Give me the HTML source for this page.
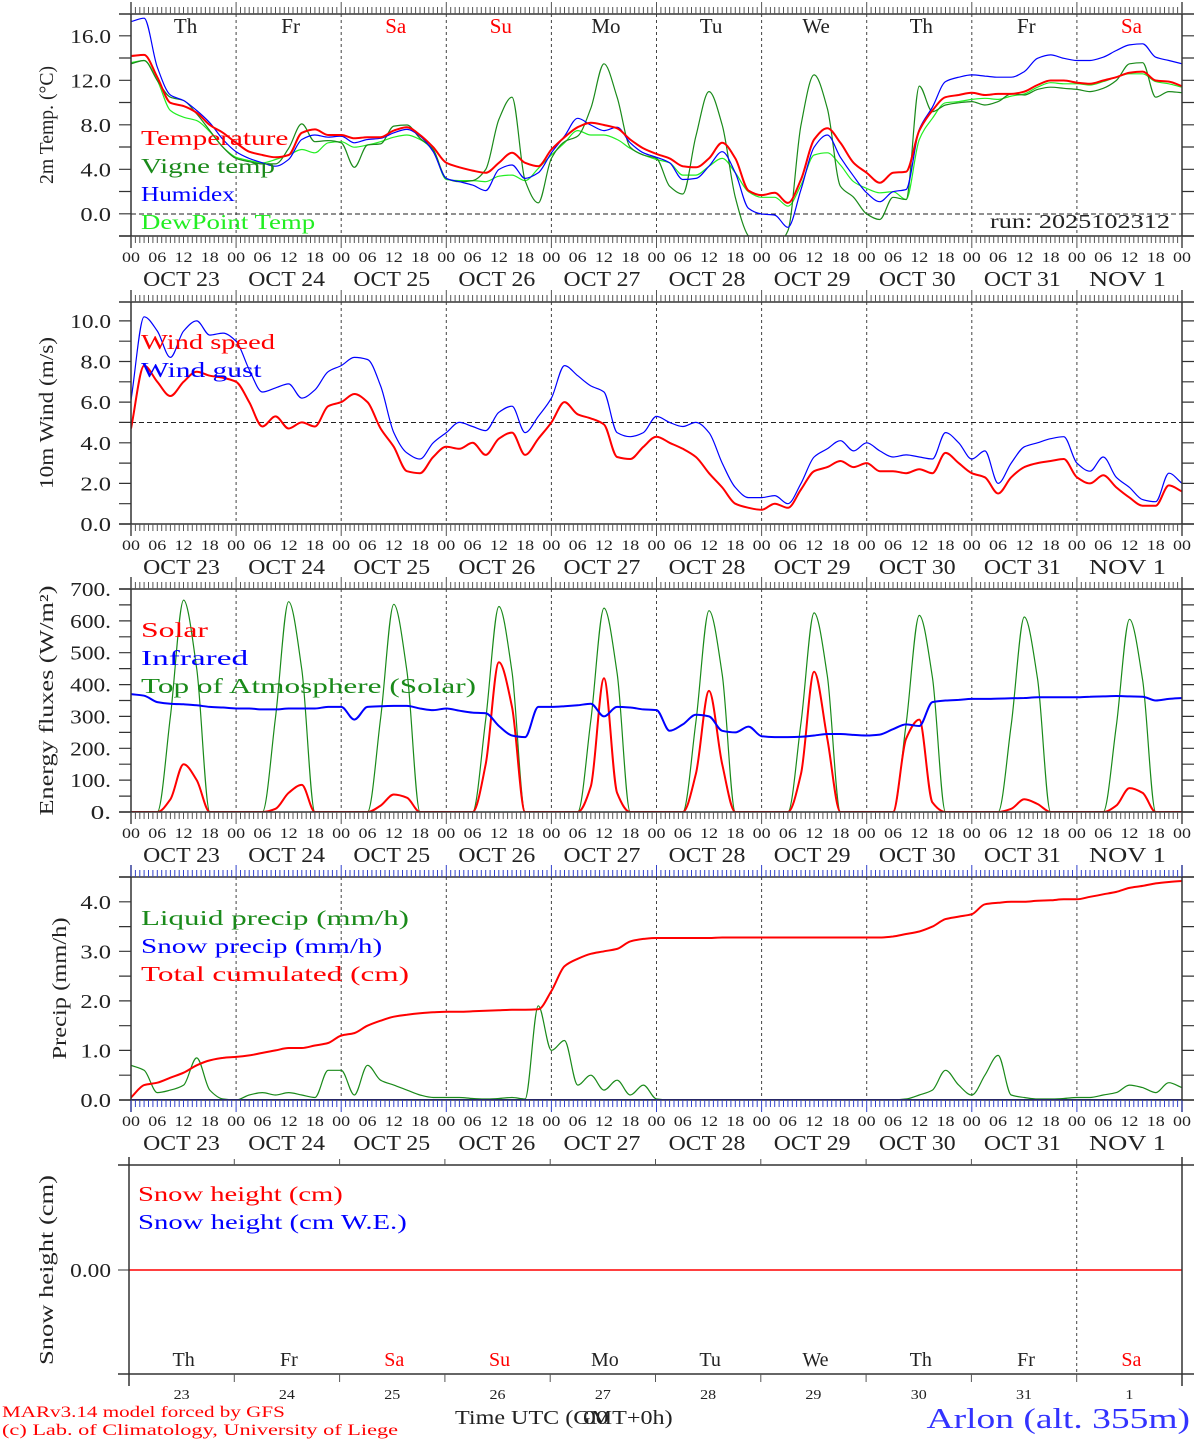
<!DOCTYPE html>
<html><head><meta charset="utf-8"><style>
html,body{margin:0;padding:0;background:#fff;}
svg{display:block;font-family:"Liberation Serif",serif;}
</style></head><body>
<svg id="chart" width="1194" height="1440" viewBox="0 0 1194 1440" xmlns="http://www.w3.org/2000/svg"></svg>
<script>
// ---- data (3-hourly from 23 Oct 00 UTC to 2 Nov 00 UTC, 81 values) ----
const dayNames = ["Th","Fr","Sa","Su","Mo","Tu","We","Th","Fr","Sa"];
const dayNameRed = [false,false,true,true,false,false,false,false,false,true];
const dateLabels = ["OCT 23","OCT 24","OCT 25","OCT 26","OCT 27","OCT 28","OCT 29","OCT 30","OCT 31","NOV  1"];
const dayNumbers = ["23","24","25","26","27","28","29","30","31","1"];
const hourLabels = ["00","06","12","18"];
const tempTicks = [0,4,8,12,16];
const windTicks = [0,2,4,6,8,10];
const fluxTicks = [0,100,200,300,400,500,600,700];
const precipTicks = [0,1,2,3,4];

const temperature = [14.2,14.3,12.3,10.0,9.7,9.1,8.0,7.3, 6.4,5.6,5.3,5.1,5.3,7.3,7.6,7.1, 7.1,6.8,6.9,6.9,7.5,7.8,7.1,6.0, 4.6,4.2,3.9,3.7,4.6,5.5,4.6,4.3, 5.8,6.9,7.8,8.2,8.0,7.7,6.7,5.9, 5.4,5.0,4.3,4.2,5.0,6.4,5.0,2.1, 1.7,1.9,1.0,3.1,6.7,7.7,6.4,4.6, 3.7,2.8,3.7,3.8,7.5,9.3,10.5,10.7, 10.9,10.7,10.8,10.8,11.0,11.6,12.0,12.0, 11.8,11.7,12.0,12.3,12.7,12.8,12.0,11.9,11.5];
const vigneTemp = [13.5,13.8,12.0,10.5,10.2,9.0,7.5,6.0, 5.0,4.7,4.5,4.5,5.9,8.1,6.5,6.6, 6.4,4.2,6.2,6.3,7.9,8.0,6.8,5.8, 3.2,2.9,3.0,4.0,8.5,10.5,3.0,1.0, 5.0,6.5,7.0,9.5,13.5,10.5,6.0,5.3, 5.0,2.5,1.8,7.0,11.0,8.0,1.5,-2.0, -3.0,-3.0,-1.5,8.0,12.5,9.5,2.5,1.5, 0.0,-0.5,1.5,1.3,11.5,9.2,9.8,10.0, 10.1,9.8,10.1,10.8,10.7,11.2,11.4,11.3, 11.2,11.0,11.3,12.0,13.5,13.6,10.5,11.0,10.9];
const humidex = [17.3,17.6,13.2,10.7,10.2,9.3,8.2,6.7, 5.6,5.0,4.6,4.3,4.9,6.7,7.1,6.9, 7.0,6.4,6.7,6.8,7.3,7.6,7.0,5.6, 3.2,2.9,2.6,2.1,4.0,4.4,3.2,3.7, 5.5,7.0,8.6,8.0,7.5,7.8,6.4,5.5, 5.1,4.6,3.1,3.2,4.3,5.6,3.7,0.5, 0.0,-0.1,-1.2,2.2,6.0,7.1,5.1,3.4, 1.9,1.1,2.0,2.2,7.6,9.6,11.9,12.3, 12.5,12.4,12.3,12.3,12.8,14.0,14.3,14.0, 13.8,13.8,14.1,14.7,15.2,15.3,14.1,13.8,13.5];
const dewPoint = [13.6,13.8,12.0,9.3,8.7,8.4,7.4,6.0, 5.1,4.8,4.6,4.9,5.3,5.8,5.5,6.4, 6.5,6.0,6.2,6.5,6.9,7.1,6.7,5.7, 3.1,3.0,3.0,2.9,3.4,3.5,3.0,4.1, 5.3,6.4,7.5,7.1,7.1,6.7,5.9,5.3, 4.9,4.6,3.5,3.5,4.3,5.0,3.7,2.0, 1.5,1.5,0.7,2.6,5.3,5.5,4.4,2.9, 2.3,1.9,2.0,1.3,6.7,8.6,10.0,10.1, 10.3,10.4,10.3,10.6,10.8,11.4,11.8,11.7, 11.7,11.6,11.9,12.3,12.6,12.6,11.9,11.7,11.4];

const windSpeed = [4.7,7.8,7.0,6.3,7.0,7.5,7.3,7.2, 7.0,6.0,4.8,5.3,4.7,5.0,4.8,5.8, 6.0,6.4,6.0,4.7,3.8,2.6,2.5,3.3, 3.8,3.7,4.0,3.4,4.2,4.5,3.4,4.2, 5.0,6.0,5.4,5.2,4.9,3.3,3.2,3.8, 4.3,4.0,3.7,3.3,2.5,1.8,1.0,0.8, 0.7,1.0,0.8,1.7,2.6,2.8,3.1,2.8, 3.0,2.6,2.6,2.5,2.7,2.5,3.5,3.0, 2.5,2.3,1.5,2.3,2.8,3.0,3.1,3.2, 2.3,2.0,2.4,1.8,1.3,0.9,0.9,1.9,1.6];
const windGust = [6.1,10.2,9.5,8.2,9.5,10.0,9.3,9.4, 9.0,7.6,6.5,6.7,6.9,6.2,6.6,7.5, 7.8,8.2,8.1,6.8,4.5,3.5,3.2,4.0, 4.5,5.0,4.8,4.6,5.5,5.8,4.5,5.3, 6.2,7.8,7.3,6.8,6.5,4.5,4.3,4.5, 5.3,5.0,4.8,5.0,4.5,3.0,1.8,1.3, 1.3,1.4,1.0,2.0,3.3,3.7,4.1,3.6, 4.0,3.6,3.3,3.4,3.3,3.2,4.5,4.0, 3.2,3.6,2.0,3.0,3.8,4.0,4.2,4.3, 3.0,2.6,3.3,2.3,1.8,1.2,1.1,2.5,2.0];

const solar = [0,0,0,40,150,100,0,0, 0,0,0,10,60,85,0,0, 0,0,0,20,55,45,0,0, 0,0,0,150,470,330,0,0, 0,0,0,80,420,60,0,0, 0,0,0,120,380,150,0,0, 0,0,0,120,440,230,0,0, 0,0,0,230,290,30,0,0, 0,0,0,10,40,25,0,0, 0,0,0,20,75,60,0,0,0];
const infrared = [370,365,345,340,338,335,330,328, 325,325,322,322,325,325,325,330, 330,290,330,332,333,333,325,320, 325,318,312,310,270,240,235,330, 330,332,335,340,300,330,328,322, 320,255,275,305,300,255,250,268, 238,235,235,236,240,245,245,242, 240,243,260,275,270,345,350,352, 355,355,356,357,358,360,360,360, 360,362,363,364,363,362,350,355,358];
const topOfAtmos = [0,0,0,300,665,450,0,0, 0,0,0,297,660,447,0,0, 0,0,0,294,652,443,0,0, 0,0,0,290,645,440,0,0, 0,0,0,287,640,436,0,0, 0,0,0,283,632,432,0,0, 0,0,0,280,625,428,0,0, 0,0,0,276,617,423,0,0, 0,0,0,273,612,419,0,0, 0,0,0,270,605,415,0,0,0];

const liquidPrecip = [0.7,0.6,0.15,0.2,0.3,0.85,0.2,0.02, 0.0,0.1,0.15,0.1,0.15,0.1,0.05,0.6, 0.6,0.1,0.7,0.4,0.3,0.2,0.1,0.05, 0.05,0.05,0.03,0.02,0.03,0.05,0.02,1.9, 1.0,1.2,0.3,0.5,0.2,0.4,0.1,0.3, 0.02,0,0,0,0,0,0,0, 0,0,0,0,0,0,0,0, 0,0,0,0.02,0.1,0.2,0.6,0.3, 0.1,0.5,0.9,0.1,0.05,0.02,0.02,0.03, 0.05,0.05,0.1,0.15,0.3,0.25,0.15,0.35,0.25];
const snowPrecip = [0,0,0,0,0,0,0,0, 0,0,0,0,0,0,0,0, 0,0,0,0,0,0,0,0, 0,0,0,0,0,0,0,0, 0,0,0,0,0,0,0,0, 0,0,0,0,0,0,0,0, 0,0,0,0,0,0,0,0, 0,0,0,0,0,0,0,0, 0,0,0,0,0,0,0,0, 0,0,0,0,0,0,0,0,0];
const totalCumul = [0.05,0.3,0.35,0.45,0.55,0.7,0.8,0.85, 0.87,0.9,0.95,1.0,1.05,1.05,1.1,1.15, 1.3,1.35,1.5,1.6,1.68,1.72,1.75,1.77, 1.78,1.78,1.79,1.8,1.81,1.82,1.82,1.83, 2.2,2.7,2.85,2.95,3.0,3.05,3.2,3.25, 3.27,3.27,3.27,3.27,3.27,3.28,3.28,3.28, 3.28,3.28,3.28,3.28,3.28,3.28,3.28,3.28, 3.28,3.28,3.3,3.35,3.4,3.5,3.65,3.7, 3.75,3.95,3.98,4.0,4.0,4.02,4.03,4.05, 4.05,4.1,4.15,4.2,4.28,4.32,4.37,4.4,4.42];
const snowHeight = [0,0];

// ---- drawing ----
const NS = "http://www.w3.org/2000/svg";
const svg = document.getElementById("chart");
function mk(tag, attrs, parent) {
  const e = document.createElementNS(NS, tag);
  for (const k in attrs) e.setAttribute(k, attrs[k]);
  (parent || svg).appendChild(e);
  return e;
}
function txt(x, y, s, size, color, anchor, cw, parent) {
  const t = mk("text", {x: x, y: y, "font-size": size, fill: color, "text-anchor": anchor || "start"}, parent);
  if (cw) { t.setAttribute("textLength", s.length * cw); t.setAttribute("lengthAdjust", "spacingAndGlyphs"); }
  t.textContent = s;
  return t;
}
// monotone cubic path (no overshoot)
function monoPath(xs, ys) {
  const n = xs.length;
  if (n < 3) return "M" + xs.map((x, i) => x.toFixed(1) + " " + ys[i].toFixed(1)).join("L");
  const d = [], m = new Array(n);
  for (let i = 0; i < n - 1; i++) d.push((ys[i + 1] - ys[i]) / (xs[i + 1] - xs[i]));
  m[0] = d[0]; m[n - 1] = d[n - 2];
  for (let i = 1; i < n - 1; i++) {
    if (d[i - 1] * d[i] <= 0) m[i] = 0;
    else m[i] = 2 / (1 / d[i - 1] + 1 / d[i]);
  }
  let p = "M" + xs[0].toFixed(1) + " " + ys[0].toFixed(1);
  for (let i = 0; i < n - 1; i++) {
    const h = xs[i + 1] - xs[i];
    p += "C" + (xs[i] + h / 3).toFixed(1) + " " + (ys[i] + m[i] * h / 3).toFixed(1) + " " +
         (xs[i + 1] - h / 3).toFixed(1) + " " + (ys[i + 1] - m[i + 1] * h / 3).toFixed(1) + " " +
         xs[i + 1].toFixed(1) + " " + ys[i + 1].toFixed(1);
  }
  return p;
}
const X0 = 131, X1 = 1182, NDAYS = 10;
const DAYW = (X1 - X0) / NDAYS;
function xIdx(i) { return X0 + i * (X1 - X0) / 80; }

function panel(cfg) {
  const g = mk("g", {});
  
  
  const yOf = v => cfg.bottom - (v - cfg.vmin) * (cfg.bottom - cfg.top) / (cfg.vmax - cfg.vmin);
  for (let d = 1; d < NDAYS; d++) {
    const x = X0 + d * DAYW;
    const l = mk("line", {x1: x, x2: x, y1: cfg.top, y2: cfg.bottom, stroke: "#444", "stroke-width": 1, "stroke-dasharray": "3,3"}, g);
    
    
  }
  if (cfg.refLine !== undefined) {
    const y = yOf(cfg.refLine);
    const l = mk("line", {x1: X0, x2: X1, y1: y, y2: y, stroke: "#222", "stroke-width": 1, "stroke-dasharray": "5,3"}, g);
    
    
  }
  const clipId = "clip-" + cfg.name;
  const cp = mk("clipPath", {id: clipId}, g);
  mk("rect", {x: X0, y: cfg.top, width: X1 - X0, height: cfg.bottom - cfg.top}, cp);
  cfg.series.forEach(s => {
    const xs = s.data.map((v, i) => xIdx(i));
    const ys = s.data.map(v => yOf(v));
    const p = mk("path", {d: monoPath(xs, ys), fill: "none", stroke: s.color, "stroke-width": s.w, "stroke-linejoin": "round", "clip-path": "url(#" + clipId + ")"}, g);
    
    
  });
  mk("line", {x1: 119, x2: 1194, y1: cfg.top, y2: cfg.top, stroke: "#333", "stroke-width": 1.5}, g);
  mk("line", {x1: 119, x2: 1194, y1: cfg.bottom, y2: cfg.bottom, stroke: "#333", "stroke-width": 1.5}, g);
  mk("line", {x1: X0, x2: X0, y1: cfg.top - 12, y2: cfg.bottom + 12, stroke: "#333", "stroke-width": 1.5}, g);
  mk("line", {x1: X1, x2: X1, y1: cfg.top - 12, y2: cfg.bottom + 12, stroke: "#333", "stroke-width": 1.5}, g);
  let d = "";
  for (let h = 0; h <= NDAYS * 24; h++) {
    const x = X0 + h * DAYW / 24;
    const len = (h % 24 === 0) ? 12 : 7;
    d += `M${x.toFixed(1)} ${cfg.top}V${cfg.top - len}M${x.toFixed(1)} ${cfg.bottom}V${cfg.bottom + len}`;
  }
  mk("path", {d: d, stroke: cfg.tickColor || "#555", "stroke-width": 1}, g);
  let yd = "";
  for (let v = cfg.vmin; v <= cfg.vmax + 1e-9; v += cfg.minorStep) {
    const y = yOf(v);
    if (y < cfg.top - 0.5) continue;
    yd += `M119 ${y.toFixed(1)}H${X0}M${X1} ${y.toFixed(1)}H1194`;
  }
  mk("path", {d: yd, stroke: "#333", "stroke-width": 1.2}, g);
  cfg.ticks.forEach(v => {
    const t = txt(111, yOf(v) + 7, cfg.fmt(v), 20, "#222", "end", 10.2, g);
    
    
  });
  for (let dd = 0; dd <= NDAYS; dd++) {
    for (let k = 0; k < 4; k++) {
      if (dd === NDAYS && k > 0) break;
      const x = X0 + dd * DAYW + k * DAYW / 4;
      const t = txt(x, cfg.bottom + 26, hourLabels[k], 15, "#222", "middle", 9, g);
      
      
    }
  }
  dateLabels.forEach((s, i) => {
    const t = txt(X0 + i * DAYW + DAYW / 2 - 2, cfg.bottom + 50, s, 21, "#222", "middle", 12.8, g);
    
    
  });
  const tt = mk("text", {x: 0, y: 0, "font-size": 20, fill: "#222", "text-anchor": "middle", transform: `translate(${cfg.titleX},${(cfg.top + cfg.bottom) / 2}) rotate(-90)`}, g);
  tt.textContent = cfg.title;
  if (cfg.titleLen) { tt.setAttribute("textLength", cfg.titleLen); tt.setAttribute("lengthAdjust", "spacingAndGlyphs"); }
  
  
  cfg.legend.forEach((L, i) => {
    const t = txt(141, cfg.legendY + i * 28, L.text, 21, L.color, "start", 13.4, g);
    
    
  });
  return {g, yOf};
}

panel({name: "temperature-panel", top: 14, bottom: 236, vmin: -1.98, vmax: 17.98, minorStep: 2,
  ticks: tempTicks, fmt: v => v.toFixed(1), refLine: 0, titleX: 53, title: "2m Temp. (\u00B0C)", titleLen: 118,
  legendY: 145,
  series: [
    {name: "dewpoint-line", data: dewPoint, color: "#22ee22", w: 1.2},
    {name: "vigne-temp-line", data: vigneTemp, color: "#1a8a1a", w: 1.2},
    {name: "humidex-line", data: humidex, color: "#0000ff", w: 1.2},
    {name: "temperature-line", data: temperature, color: "#ff0000", w: 2}],
  legend: [{text: "Temperature", color: "#ff0000"}, {text: "Vigne temp", color: "#1a8a1a"}, {text: "Humidex", color: "#0000ff"}, {text: "DewPoint Temp", color: "#22ee22"}]});
dayNames.forEach((s, i) => {
  const t = txt(X0 + i * DAYW + DAYW / 2 + 2, 33, s, 21, dayNameRed[i] ? "#ff0000" : "#222", "middle", 0);
  
  
});
const runT = txt(1170, 228, "run: 2025102312", 20, "#222", "end", 12);



panel({name: "wind-panel", top: 302, bottom: 524, vmin: 0, vmax: 10.93, minorStep: 1,
  ticks: windTicks, fmt: v => v.toFixed(1), refLine: 5, titleX: 53, title: "10m Wind (m/s)", titleLen: 152,
  legendY: 349,
  series: [
    {name: "wind-gust-line", data: windGust, color: "#0000ff", w: 1.2},
    {name: "wind-speed-line", data: windSpeed, color: "#ff0000", w: 2}],
  legend: [{text: "Wind speed", color: "#ff0000"}, {text: "Wind gust", color: "#0000ff"}]});

panel({name: "energy-flux-panel", top: 589, bottom: 812, vmin: 0, vmax: 700, minorStep: 50,
  ticks: fluxTicks, fmt: v => v + ".", titleX: 53, title: "Energy fluxes (W/m\u00B2)", titleLen: 230,
  legendY: 637,
  series: [
    {name: "toa-solar-line", data: topOfAtmos, color: "#1a8a1a", w: 1.2},
    {name: "solar-line", data: solar, color: "#ff0000", w: 2},
    {name: "infrared-line", data: infrared, color: "#0000ff", w: 2}],
  legend: [{text: "Solar", color: "#ff0000"}, {text: "Infrared", color: "#0000ff"}, {text: "Top of Atmosphere (Solar)", color: "#1a8a1a"}]});

panel({name: "precip-panel", top: 877, bottom: 1100, vmin: 0, vmax: 4.5, minorStep: 0.5,
  ticks: precipTicks, fmt: v => v.toFixed(1), titleX: 66, title: "Precip (mm/h)", titleLen: 142, tickColor: "#3344cc",
  legendY: 925,
  series: [
    {name: "liquid-precip-line", data: liquidPrecip, color: "#1a8a1a", w: 1.2},
    {name: "snow-precip-line", data: snowPrecip, color: "#0000ff", w: 2},
    {name: "total-cumulated-line", data: totalCumul, color: "#ff0000", w: 2}],
  legend: [{text: "Liquid precip (mm/h)", color: "#1a8a1a"}, {text: "Snow precip (mm/h)", color: "#0000ff"}, {text: "Total cumulated (cm)", color: "#ff0000"}]});

(function () {
  const g = mk("g", {});
  
  
  const L = 129, R = 1182, T = 1165, B = 1374, DW = (R - L) / NDAYS;
  const yOf = v => 1270 - v * 100;
  mk("line", {x1: L + 9 * DW, x2: L + 9 * DW, y1: T, y2: B, stroke: "#444", "stroke-dasharray": "3,3"}, g);
  const pts = snowHeight.map((v, i) => (L + i * (R - L) / (snowHeight.length - 1)) + "," + yOf(v)).join(" ");
  const p = mk("polyline", {points: pts, stroke: "#ff0000", "stroke-width": 1.5, fill: "none"}, g);
  
  
  mk("line", {x1: 118, x2: 1194, y1: T, y2: T, stroke: "#333", "stroke-width": 1.5}, g);
  mk("line", {x1: 118, x2: 1194, y1: B, y2: B, stroke: "#333", "stroke-width": 1.5}, g);
  mk("line", {x1: L, x2: L, y1: T - 8, y2: B + 12, stroke: "#333", "stroke-width": 1.5}, g);
  mk("line", {x1: R, x2: R, y1: T - 8, y2: B + 12, stroke: "#333", "stroke-width": 1.5}, g);
  let d = "";
  for (let k = 1; k < NDAYS; k++) { const x = L + k * DW; d += `M${x} ${T}V${T - 6}M${x} ${B}V${B + 8}`; }
  mk("path", {d: d, stroke: "#555"}, g);
  mk("line", {x1: 118, x2: L, y1: 1270, y2: 1270, stroke: "#333"}, g);
  const t0 = txt(111, 1277, "0.00", 20, "#222", "end", 10.2, g);
  
  
  const tt = mk("text", {x: 0, y: 0, "font-size": 20, fill: "#222", "text-anchor": "middle", transform: "translate(53,1270) rotate(-90)", textLength: 190, lengthAdjust: "spacingAndGlyphs"}, g);
  tt.textContent = "Snow height (cm)";
  
  
  const l1 = txt(138, 1201, "Snow height (cm)", 21, "#ff0000", "start", 12.8, g);
  
  
  const l2 = txt(138, 1229, "Snow height (cm W.E.)", 21, "#0000ff", "start", 12.8, g);
  
  
  dayNames.forEach((s, i) => {
    const t = txt(L + i * DW + DW / 2 + 2, 1366, s, 20, dayNameRed[i] ? "#ff0000" : "#222", "middle", 0, g);
    
    
  });
  dayNumbers.forEach((s, i) => {
    const t = txt(L + i * DW + DW / 2, 1399, s, 14, "#222", "middle", 8, g);
    
    
  });
})();

const f1 = txt(2, 1417, "MARv3.14 model forced by GFS", 16, "#ff0000", "start", 10.1);


const f2 = txt(2, 1435, "(c) Lab. of Climatology, University of Liege", 16, "#ff0000", "start", 9.0);


const f3 = txt(455, 1424, "Time UTC (GMT+0h)", 20, "#222", "start", 12.8);


const f4 = txt(583, 1424, "00", 20, "#222", "start", 12.8);


const f5 = txt(1190, 1428, "Arlon (alt. 355m)", 29, "#3333ff", "end", 15.5);


</script>
</body></html>
